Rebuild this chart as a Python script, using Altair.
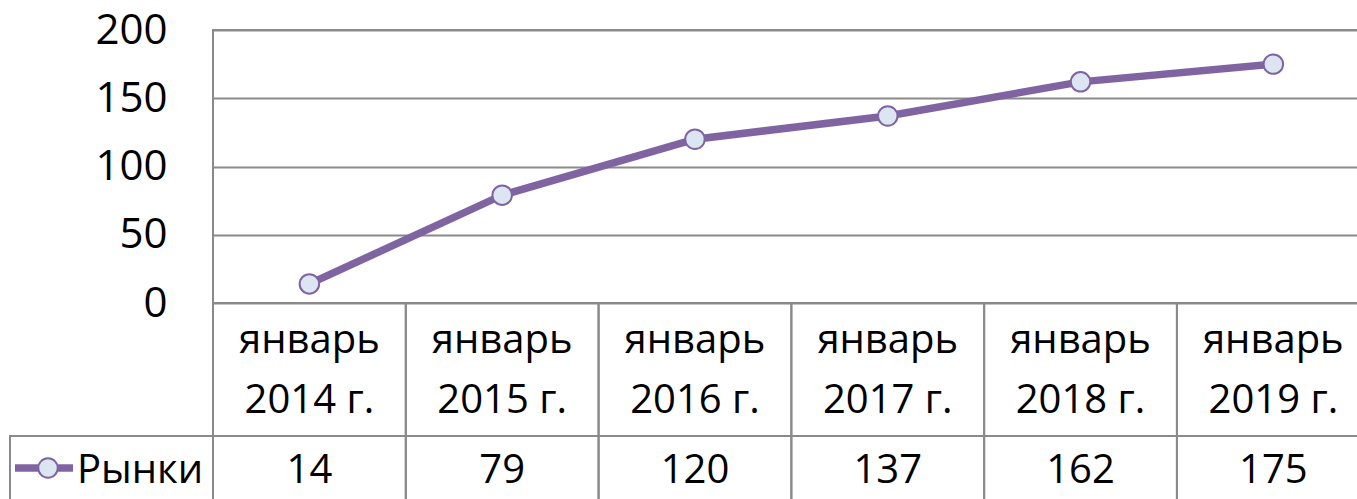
import altair as alt
import pandas as pd

months = ["январь", "январь", "январь", "январь", "январь", "январь"]
years = ["2014 г.", "2015 г.", "2016 г.", "2017 г.", "2018 г.", "2019 г."]
values = [14, 79, 120, 137, 162, 175]
series_name = "Рынки"
y_ticks = [0, 50, 100, 150, 200]

FONT = "Open Sans"
LINE = "#8064A2"
FILL = "#DCE6F2"
GRID = "#8A8A8A"

n = len(values)
df = pd.DataFrame({
    "idx": list(range(n)),
    "month": months,
    "year": years,
    "value": values,
    "label": [str(v) for v in values],
})

# layout (pixels relative to plot area top-left)
W, H = 1144, 273
XMAX = 5.434
PXU = W / (XMAX + 0.5)          # pixels per category step


def px_x(p):
    return -0.5 + p / PXU


def px_y(p):
    return -(p - H) * 200.0 / H


xs = alt.Scale(domain=[-0.5, XMAX], nice=False, zero=False)
ys = alt.Scale(domain=[0, 200], nice=False, zero=False)

# table cell outlines
cells = []
for i in range(n):
    cells.append({"x": i - 0.5, "x2": i + 0.5, "y": 0, "y2": px_y(406)})
    cells.append({"x": i - 0.5, "x2": i + 0.5, "y": px_y(406), "y2": px_y(490)})
cells.append({"x": px_x(-203), "x2": -0.5, "y": px_y(406), "y2": px_y(490)})
cells.append({"x": -0.5, "x2": n - 0.5, "y": 0, "y2": 200})
cells_df = pd.DataFrame(cells)

grid_rects = alt.Chart(cells_df).mark_rect(
    stroke=GRID, strokeWidth=2, fillOpacity=0).encode(
    x=alt.X("x:Q", scale=xs, axis=None), x2="x2:Q",
    y=alt.Y("y:Q", scale=ys), y2="y2:Q")

base = alt.Chart(df)
X = alt.X("idx:Q", scale=xs, axis=None)

line = base.mark_line(color=LINE, strokeWidth=7.5).encode(
    x=X,
    y=alt.Y("value:Q", scale=ys, axis=alt.Axis(
        values=y_ticks, grid=True, gridColor=GRID, gridWidth=2,
        domain=False, ticks=False, labelFont=FONT, labelFontSize=42,
        labelColor="black", labelPadding=46, title=None, labelBaseline="middle")),
)
points = base.mark_point(shape="circle", filled=True, fill=FILL, stroke=LINE,
                         strokeWidth=2, size=380, opacity=1).encode(
    x=X, y=alt.Y("value:Q", scale=ys))

txt_kw = dict(font=FONT, fontSize=40, color="black", align="center", baseline="alphabetic")
t_month = base.mark_text(**txt_kw).encode(x=X, y=alt.datum(px_y(323)), text="month:N")
t_year = base.mark_text(**txt_kw).encode(x=X, y=alt.datum(px_y(383)), text="year:N")
t_val = base.mark_text(**txt_kw).encode(x=X, y=alt.datum(px_y(453)), text="label:N")

legend_line_df = pd.DataFrame({"lx": [px_x(-198), px_x(-140)], "ly": [px_y(438)] * 2})
leg_line = alt.Chart(legend_line_df).mark_line(color=LINE, strokeWidth=7.5).encode(
    x=alt.X("lx:Q", scale=xs), y=alt.Y("ly:Q", scale=ys))
legend_df = pd.DataFrame({"name": [series_name], "lx": [px_x(-165)], "ly": [px_y(438)],
                          "tx": [px_x(-136)], "ty": [px_y(453)]})
leg_pt = alt.Chart(legend_df).mark_point(
    shape="circle", filled=True, fill=FILL, stroke=LINE, strokeWidth=2,
    size=380, opacity=1).encode(
    x=alt.X("lx:Q", scale=xs), y=alt.Y("ly:Q", scale=ys))
leg_txt = alt.Chart(legend_df).mark_text(
    font=FONT, fontSize=40, color="black", align="left", baseline="alphabetic").encode(
    x=alt.X("tx:Q", scale=xs), y=alt.Y("ty:Q", scale=ys), text="name:N")

chart = alt.layer(
    grid_rects, line, points, t_month, t_year, t_val, leg_line, leg_pt, leg_txt
).properties(
    width=W, height=H,
    autosize=alt.AutoSizeParams(type="none"),
    padding={"left": 213, "top": 30, "right": 0, "bottom": 196},
)

chart.save("out.html", embed_options={"renderer": "svg", "actions": False})
